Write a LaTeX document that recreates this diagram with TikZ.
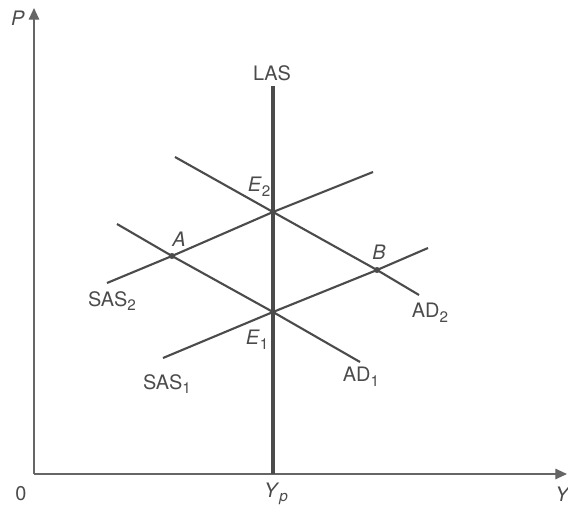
\documentclass[tikz,border=0pt]{standalone}
\usepackage{fontspec}
\setmainfont{TeX Gyre Heros}
\usetikzlibrary{arrows.meta}

\definecolor{ink}{RGB}{75,75,75}
\newcommand{\lo}[1]{\raisebox{-0.45ex}{\fontsize{13}{15}\selectfont #1}}

\tikzset{
  curve/.style={draw=ink, line width=1.8pt},
  axis/.style={draw=ink!85, line width=1.2pt, -{Triangle[length=10pt,width=9pt]}},
  lbl/.style={text=ink, font=\fontsize{17}{19}\selectfont, inner sep=0pt},
  dot/.style={fill=ink}
}

\begin{document}
\begin{tikzpicture}[x=0.03cm, y=-0.03cm]
    \useasboundingbox (0,0) rectangle (568,513);

    % axes
    \coordinate (O) at (34,474);
    \coordinate (Ptop) at (34,8);
    \coordinate (Yend) at (567,474);
    \draw[axis] (O) -- (Ptop);
    \draw[axis] (O) -- (Yend);

    % equilibrium points
    \coordinate (E2) at (273,212);
    \coordinate (E1) at (273,312);
    \coordinate (A) at (172,256);
    \coordinate (B) at (377,270);

    % long run supply
    \coordinate (lasTop) at (273,86);
    \coordinate (lasBot) at (273,474);
    \draw[draw=ink, line width=2.8pt] (lasTop) -- (lasBot);

    % demand and short run supply
    \draw[curve] (175,157) -- (E2) -- (B) -- (419,295);
    \draw[curve] (117,224) -- (A) -- (E1) -- (360,362);
    \draw[curve] (107,283) -- (A) -- (E2) -- (373,172);
    \draw[curve] (163,358) -- (E1) -- (B) -- (428,248);

    \foreach \p in {E2,E1,A,B}
      \fill[dot] (\p) circle (2.6pt);

    % labels
    \node[lbl] (pLbl) at (18,18) {\textit{P}};
    \node[lbl] (yLbl) at (563,494) {\textit{Y}};
    \node[lbl] (oLbl) at (21,494) {0};
    \node[lbl] (ypLbl) at (276,494) {\textit{Y}\lo{\textit{p}}};
    \node[lbl] (lasLbl) at (272,73) {LAS};
    \node[lbl] (e2Lbl) at (259,187) {\textit{E}\lo{2}};
    \node[lbl] (e1Lbl) at (257,340) {\textit{E}\lo{1}};
    \node[lbl] (aLbl) at (179,239) {\textit{A}};
    \node[lbl] (bLbl) at (379,252) {\textit{B}};
    \node[lbl] (sas2Lbl) at (112,301) {SAS\lo{2}};
    \node[lbl] (sas1Lbl) at (167,384) {SAS\lo{1}};
    \node[lbl] (ad2Lbl) at (430,313) {AD\lo{2}};
    \node[lbl] (ad1Lbl) at (361,377) {AD\lo{1}};
\end{tikzpicture}
\end{document}
